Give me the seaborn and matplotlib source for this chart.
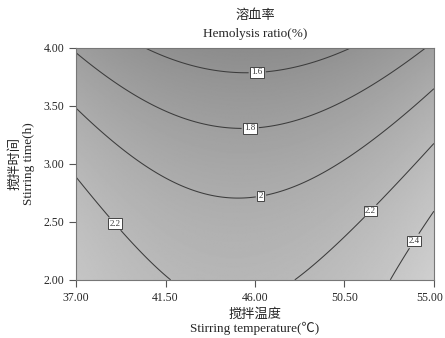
import numpy as np
import matplotlib
matplotlib.use('Agg')
import matplotlib.pyplot as plt
import matplotlib.transforms as mtransforms
import seaborn as sns

# coded response-surface coefficients read from the contour map
# z = b0 + bA*A + bB*B + bAB*A*B + bAA*A^2 + bBB*B^2,  A=(T-46)/9, B=t-3
coef_names = ['b0', 'bA', 'bB', 'bAB', 'bAA', 'bBB']
coef_vals = [1.911, 0.050, -0.334, -0.026, 0.305, -0.077]

temp_range = [37.0, 55.0]
time_range = [2.0, 4.0]
x_ticks = [37.0, 41.5, 46.0, 50.5, 55.0]
y_ticks = [2.0, 2.5, 3.0, 3.5, 4.0]
levels = [1.6, 1.8, 2.0, 2.2, 2.4]
label_spots = [(46.1, 3.83), (45.75, 3.35), (46.25, 2.77), (39.2, 2.52), (51.6, 2.63), (53.7, 2.37)]

sns.set_style('ticks')
plt.rcParams['font.family'] = ['Liberation Serif', 'Noto Sans CJK SC', 'DejaVu Sans']

c = dict(zip(coef_names, coef_vals))
T = np.linspace(temp_range[0], temp_range[1], 300)
t = np.linspace(time_range[0], time_range[1], 300)
TT, tt = np.meshgrid(T, t)
A = (TT - 46.0) / 9.0
B = tt - 3.0
Z = c['b0'] + c['bA']*A + c['bB']*B + c['bAB']*A*B + c['bAA']*A**2 + c['bBB']*B**2

fig = plt.figure(figsize=(4.45, 3.38), dpi=100)
ax = fig.add_axes([0.171, 0.172, 0.804, 0.686])

ax.imshow(Z, extent=[temp_range[0], temp_range[1], time_range[0], time_range[1]],
          origin='lower', aspect='auto', cmap='gray', vmin=-0.7, vmax=3.3,
          interpolation='bilinear')
cs = ax.contour(TT, tt, Z, levels=levels, colors='#3c3c3c', linewidths=0.75)
lbls = ax.clabel(cs, fmt=lambda v: '{:g}'.format(v), fontsize=6.5, inline=True,
                 manual=label_spots, inline_spacing=3)
for l in lbls:
    l.set_rotation(0)
    l.set_bbox(dict(facecolor='white', edgecolor='#444444', pad=1.0, linewidth=0.7))

ax.set_xlim(temp_range)
ax.set_ylim(time_range)
ax.set_xticks(x_ticks)
ax.set_yticks(y_ticks)
ax.set_xticklabels(['{:.2f}'.format(v) for v in x_ticks])
ax.set_yticklabels(['{:.2f}'.format(v) for v in y_ticks])
ax.tick_params(labelsize=8.5, length=5, width=0.8, color='#555555', direction='out')
for s in ax.spines.values():
    s.set_color('#777777')
    s.set_linewidth(0.8)
# nudge the last x label a little so it stays inside the figure
last = ax.get_xticklabels()[-1]
last.set_transform(last.get_transform() + mtransforms.ScaledTranslation(-4/100, 0, fig.dpi_scale_trans))

ax.set_xlabel('搅拌温度\nStirring temperature(℃)', fontsize=9.5, linespacing=1.15, labelpad=3)
ax.set_ylabel('搅拌时间\nStirring time(h)', fontsize=9.5, linespacing=1.15, labelpad=6)
ax.set_title('溶血率\nHemolysis ratio(%)', fontsize=9.5, linespacing=1.6, pad=8)

fig.savefig('out.png', dpi=100)
